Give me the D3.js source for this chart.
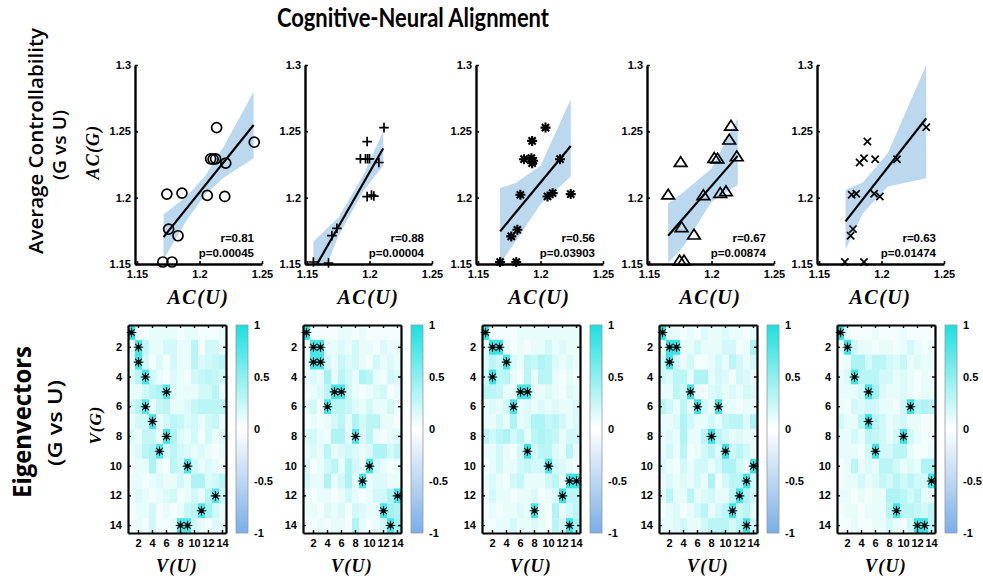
<!DOCTYPE html>
<html>
<head>
<meta charset="utf-8">
<script src="https://cdn.jsdelivr.net/npm/d3@7"></script>
<style>
  body { margin: 0; background: #fff; }
  svg { display: block; }
</style>
</head>
<body>
<div id="chart"></div>
<script>
// ---- top row: AC(U) vs AC(G), one array pair per panel ----
const acU1 = [1.2137,1.2438,1.2089,1.2109,1.2129,1.2210,1.1739,1.1860,1.2062,1.2202,1.1753,1.1828,1.1707,1.1780];
const acG1 = [1.2528,1.2418,1.2293,1.2290,1.2293,1.2260,1.2027,1.2034,1.2017,1.2009,1.1763,1.1713,1.1515,1.1515];
const acU2 = [1.2116,1.1981,1.1927,1.1968,1.2000,1.2075,1.1981,1.2016,1.2035,1.1739,1.1699,1.1551,1.1672,1.1985];
const acG2 = [1.2528,1.2423,1.2293,1.2293,1.2293,1.2265,1.2008,1.2020,1.2012,1.1769,1.1714,1.1515,1.1507,1.2293];
const acU3 = [1.2040,1.1933,1.1868,1.1927,1.1941,1.1933,1.2156,1.1839,1.2056,1.2097,1.2242,1.1815,1.1766,1.1677,1.1806];
const acG3 = [1.2528,1.2428,1.2290,1.2298,1.2278,1.2260,1.2290,1.2022,1.2009,1.2034,1.2027,1.1758,1.1708,1.1515,1.1515];
const acU4 = [1.2156,1.2142,1.1753,1.2022,1.2048,1.2202,1.1653,1.1935,1.2070,1.2116,1.1761,1.1860,1.1745,1.1780];
const acG4 = [1.2541,1.2436,1.2267,1.2298,1.2293,1.2310,1.2022,1.2017,1.2034,1.2047,1.1776,1.1720,1.1525,1.1525];
const acU5 = [1.2358,1.1887,1.1860,1.1825,1.1949,1.2124,1.1761,1.1798,1.1941,1.1987,1.1772,1.1753,1.1707,1.1860];
const acG5 = [1.2531,1.2423,1.2298,1.2265,1.2290,1.2290,1.2022,1.2029,1.2029,1.2009,1.1763,1.1713,1.1515,1.1515];

// fitted line end points
const fitX = [[1.1712,1.2433],[1.1578,1.2110],[1.1677,1.2242],[1.1653,1.2210],[1.1712,1.2358]];
const fitY = [[1.1703,1.2548],[1.1495,1.2373],[1.1746,1.2390],[1.1713,1.2315],[1.1821,1.2599]];

// confidence bands
const bandX1 = [1.1712,1.19,1.205,1.22,1.2433], bandLo1 = [1.1533,1.1833,1.2029,1.2155,1.2298], bandHi1 = [1.1873,1.2013,1.2169,1.2395,1.2798];
const bandX2 = [1.1551,1.175,1.195,1.211],      bandLo2 = [1.123,1.1709,1.2049,1.2243],        bandHi2 = [1.167,1.1849,1.2169,1.2503];
const bandX3 = [1.1677,1.18,1.20,1.2242],       bandLo3 = [1.150,1.167,1.195,1.216],           bandHi3 = [1.2072,1.211,1.224,1.2742];
const bandX4 = [1.1653,1.178,1.2,1.221],        bandLo4 = [1.1507,1.164,1.197,1.2097],         bandHi4 = [1.1954,1.2045,1.222,1.2599];
const bandX5 = [1.1712,1.185,1.205,1.2358],     bandLo5 = [1.1608,1.1883,1.2084,1.2147],       bandHi5 = [1.2059,1.2115,1.2335,1.3];

const rLabels = ["r=0.81","r=0.88","r=0.56","r=0.67","r=0.63"];
const pLabels = ["p=0.00045","p=0.00004","p=0.03903","p=0.00874","p=0.01474"];
const markerTypes = ["circle","plus","asterisk","triangle","times"];
const acTicks = [1.15,1.2,1.25,1.3];
const acXTicks = [1.15,1.2,1.25];

// ---- bottom row: eigenvector similarity, rows V(G) 1..14, cols V(U) 1..14 ----
const eig1 = [
  [.9,.05,.05,.1,.1,.1,.1,.05,.1,.1,.05,.05,.05,.1],
  [.1,.8,.25,.1,.1,.2,.2,.1,.1,.3,.05,.2,.2,.1],
  [.1,.8,.2,.05,.15,.05,.2,.1,.1,.3,.15,.2,.25,.3],
  [.15,.3,.8,.2,.1,.05,.15,.1,.05,.2,.25,.3,.25,.2],
  [.1,.1,.2,.3,.35,.75,.15,.1,.1,.1,.2,.2,.3,.1],
  [.2,.3,.75,.1,.25,.3,.1,.1,.15,.25,.3,.3,.3,.3],
  [.1,.2,.2,.8,.1,.2,.3,.25,.15,.2,.1,.2,.25,.1],
  [.15,.1,.25,.25,.1,.8,.35,.15,.1,.2,.05,.2,.1,.15],
  [.1,.15,.3,.35,.75,.2,.3,.2,.15,.1,.15,.1,.05,.1],
  [.05,.1,.1,.35,.1,.05,.3,.2,.8,.2,.1,.15,.1,.05],
  [.1,.1,.05,.1,.15,.1,.1,.2,.1,.35,.35,.15,.2,.3],
  [.05,.15,.1,.05,.1,.15,.2,.05,.1,.2,.1,.3,.75,.2],
  [.05,.1,.1,.2,.05,.1,.05,.1,.25,.3,.8,.4,.2,.1],
  [.05,.1,.05,.2,.05,.05,.1,.75,.75,.2,.1,.05,.15,.1]
];
const eig2 = [
  [.9,.05,.05,.05,.05,.1,.1,.05,.1,.05,.05,.05,.05,.05],
  [.05,.8,.8,.1,.1,.15,.1,.2,.1,.1,.05,.15,.1,.1],
  [.1,.8,.8,.2,.1,.25,.15,.2,.1,.05,.2,.1,.15,.1],
  [.1,.15,.1,.4,.1,.3,.2,.1,.35,.3,.1,.05,.2,.15],
  [.05,.1,.15,.3,.8,.8,.2,.1,.05,.1,.15,.2,.05,.1],
  [.1,.2,.05,.8,.3,.3,.25,.15,.1,.2,.1,.1,.2,.05],
  [.05,.1,.05,.1,.2,.3,.1,.35,.2,.3,.3,.1,.1,.05],
  [.15,.2,.1,.05,.35,.35,.1,.8,.15,.3,.1,.05,.1,.15],
  [.1,.15,.1,.3,.1,.15,.2,.15,.1,.15,.35,.35,.2,.3],
  [.15,.05,.1,.2,.3,.1,.35,.2,.1,.8,.2,.1,.05,.1],
  [.2,.1,.1,.35,.1,.2,.35,.1,.8,.1,.15,.15,.1,.1],
  [.05,.05,.1,.1,.05,.1,.2,.1,.05,.1,.2,.2,.35,.8],
  [.1,.1,.05,.15,.1,.15,.05,.2,.15,.1,.1,.8,.4,.35],
  [.05,.05,.1,.05,.1,.1,.05,.35,.1,.05,.1,.2,.8,.4]
];
const eig3 = [
  [.9,.05,.05,.05,.05,.1,.1,.1,.1,.1,.1,.1,.1,.1],
  [.1,.85,.85,.1,.05,.1,.05,.1,.1,.2,.1,.15,.1,.1],
  [.15,.3,.2,.8,.15,.1,.3,.25,.35,.3,.15,.1,.15,.1],
  [.2,.85,.3,.3,.1,.05,.3,.1,.3,.3,.1,.05,.1,.05],
  [.3,.3,.25,.1,.1,.8,.8,.1,.1,.15,.1,.05,.15,.1],
  [.1,.15,.1,.2,.8,.1,.15,.1,.15,.1,.15,.1,.1,.15],
  [.1,.1,.2,.1,.35,.1,.15,.35,.35,.25,.3,.2,.1,.15],
  [.3,.2,.3,.35,.2,.3,.1,.3,.35,.3,.25,.1,.2,.2],
  [.1,.1,.2,.1,.05,.2,.85,.2,.3,.3,.15,.1,.3,.1],
  [.05,.1,.2,.1,.1,.2,.25,.2,.2,.8,.2,.15,.1,.05],
  [.1,.15,.1,.05,.2,.25,.1,.1,.1,.2,.3,.1,.85,.85],
  [.05,.2,.1,.1,.05,.1,.1,.15,.05,.1,.15,.85,.3,.3],
  [.05,.1,.05,.1,.1,.15,.1,.85,.1,.05,.35,.1,.2,.3],
  [.05,.05,.1,.1,.2,.1,.1,.15,.1,.05,.3,.2,.85,.4]
];
const eig4 = [
  [.9,.1,.1,.05,.1,.05,.15,.1,.1,.15,.1,.1,.05,.1],
  [.1,.85,.85,.1,.1,.2,.1,.1,.1,.2,.2,.05,.1,.35],
  [.2,.85,.2,.1,.2,.05,.05,.1,.2,.1,.3,.2,.1,.2],
  [.2,.15,.3,.3,.1,.35,.35,.1,.2,.15,.05,.2,.15,.1],
  [.1,.1,.3,.2,.85,.1,.05,.15,.2,.1,.15,.1,.2,.15],
  [.3,.2,.1,.3,.1,.85,.2,.1,.85,.1,.1,.05,.1,.1],
  [.1,.1,.15,.35,.2,.1,.1,.2,.1,.25,.3,.3,.15,.35],
  [.1,.15,.1,.35,.1,.1,.3,.85,.3,.2,.1,.15,.1,.1],
  [.1,.2,.1,.3,.05,.1,.2,.3,.15,.85,.2,.3,.2,.1],
  [.15,.1,.05,.2,.1,.2,.2,.1,.2,.35,.35,.2,.1,.85],
  [.1,.15,.1,.15,.1,.2,.1,.35,.05,.2,.3,.3,.85,.2],
  [.1,.3,.1,.1,.3,.1,.15,.2,.1,.1,.3,.85,.35,.2],
  [.05,.1,.15,.05,.1,.2,.3,.1,.2,.3,.85,.2,.3,.1],
  [.1,.1,.15,.2,.1,.1,.2,.3,.3,.3,.2,.3,.85,.2]
];
const eig5 = [
  [.9,.1,.05,.05,.05,.1,.05,.05,.05,.1,.05,.05,.05,.05],
  [.1,.85,.2,.1,.1,.05,.1,.1,.05,.1,.2,.1,.05,.1],
  [.05,.1,.35,.35,.2,.3,.3,.2,.15,.25,.1,.15,.1,.1],
  [.1,.15,.85,.3,.3,.3,.2,.2,.1,.15,.1,.05,.1,.05],
  [.1,.1,.1,.2,.85,.4,.15,.1,.1,.15,.1,.05,.1,.1],
  [.1,.05,.2,.15,.2,.2,.1,.1,.05,.2,.85,.3,.35,.3],
  [.2,.1,.1,.3,.85,.3,.2,.1,.15,.2,.1,.1,.05,.05],
  [.1,.1,.2,.1,.3,.25,.2,.1,.2,.85,.2,.1,.05,.05],
  [.1,.1,.1,.05,.2,.85,.2,.2,.3,.3,.1,.05,.05,.1],
  [.05,.1,.3,.1,.15,.1,.3,.3,.2,.1,.15,.1,.35,.35],
  [.05,.1,.1,.2,.1,.15,.25,.2,.3,.2,.3,.2,.2,.85],
  [.1,.1,.05,.1,.05,.1,.1,.35,.35,.3,.2,.3,.1,.1],
  [.05,.1,.1,.05,.1,.1,.1,.3,.85,.3,.3,.25,.2,.3],
  [.05,.05,.1,.05,.05,.1,.1,.2,.1,.05,.2,.85,.85,.3]
];
const eigIndex = d3.range(1, 15);
const eigTicks = [2,4,6,8,10,12,14];
const cbarTicks = [1,0.5,0,-0.5,-1];
const matchLevel = 0.7; // cells at or above this get an asterisk

const scatterSets = [
  { u: acU1, g: acG1, bx: bandX1, lo: bandLo1, hi: bandHi1 },
  { u: acU2, g: acG2, bx: bandX2, lo: bandLo2, hi: bandHi2 },
  { u: acU3, g: acG3, bx: bandX3, lo: bandLo3, hi: bandHi3 },
  { u: acU4, g: acG4, bx: bandX4, lo: bandLo4, hi: bandHi4 },
  { u: acU5, g: acG5, bx: bandX5, lo: bandLo5, hi: bandHi5 }
];
const eigSets = [eig1, eig2, eig3, eig4, eig5];

const W = 983, H = 583;
const numFont = "'Liberation Sans', Arial, sans-serif";
const mathFont = "'Liberation Serif', 'Times New Roman', serif";
const labelFont = "'Open Sans', 'Noto Sans', sans-serif";

const svg = d3.select("#chart").append("svg")
    .attr("width", W)
    .attr("height", H)
    .attr("viewBox", `0 0 ${W} ${H}`);

// title + row labels
svg.append("text")
    .attr("x", 413).attr("y", 27)
    .attr("text-anchor", "middle")
    .attr("font-family", "Lato, 'Open Sans', sans-serif")
    .attr("font-weight", "bold")
    .attr("font-size", 27)
    .attr("textLength", 272)
    .attr("lengthAdjust", "spacingAndGlyphs")
    .text("Cognitive-Neural Alignment");

function rotLabel(x, y, txt, size, weight, len) {
  const t = svg.append("text")
      .attr("transform", `translate(${x},${y}) rotate(-90)`)
      .attr("text-anchor", "middle")
      .attr("dominant-baseline", "central")
      .attr("font-family", labelFont)
      .attr("font-weight", weight)
      .attr("font-size", size)
      .text(txt);
  if (len) t.attr("textLength", len).attr("lengthAdjust", "spacingAndGlyphs");
  return t;
}
rotLabel(35, 141, "Average Controllability", 20, 600, 226);
rotLabel(59, 145, "(G vs U)", 18, 600, 70);
rotLabel(21, 422, "Eigenvectors", 25, "bold", 152);
rotLabel(55, 423, "(G vs U)", 19, 600, 86);

// ---------- scatter panels ----------
const scatterLeft = [135, 305, 476, 647, 817];
const sTop = 65, sW = 127, sH = 199;

const x = d3.scaleLinear().domain([1.1484, 1.25]).range([0, sW]);
const y = d3.scaleLinear().domain([1.15, 1.3]).range([sH, 0]);
const fmt = d => String(+d.toFixed(2));

function drawMarker(g, type, px, py) {
  if (type === "circle") {
    g.append("circle").attr("cx", px).attr("cy", py).attr("r", 5)
      .attr("fill", "none").attr("stroke", "#000").attr("stroke-width", 1.7);
    return;
  }
  let d = "";
  if (type === "plus") d = `M${px-4.8},${py}H${px+4.8}M${px},${py-4.8}V${py+4.8}`;
  if (type === "times") d = `M${px-3.6},${py-3.6}L${px+3.6},${py+3.6}M${px-3.6},${py+3.6}L${px+3.6},${py-3.6}`;
  if (type === "asterisk") d = `M${px-5},${py}H${px+5}M${px},${py-5}V${py+5}` +
      `M${px-3.6},${py-3.6}L${px+3.6},${py+3.6}M${px-3.6},${py+3.6}L${px+3.6},${py-3.6}`;
  if (type === "triangle") d = `M${px},${py-5.5}L${px+6.3},${py+4.2}L${px-6.3},${py+4.2}Z`;
  g.append("path").attr("d", d)
    .attr("fill", "none").attr("stroke", "#000")
    .attr("stroke-width", type === "asterisk" ? 2.1 : 1.7)
    .attr("stroke-linejoin", "miter");
}

scatterSets.forEach((s, i) => {
  const g = svg.append("g").attr("transform", `translate(${scatterLeft[i]},${sTop})`);

  g.append("clipPath").attr("id", "clip" + i)
    .append("rect").attr("width", sW).attr("height", sH);

  const area = d3.area()
      .x((d, k) => x(s.bx[k]))
      .y0((d, k) => y(s.lo[k]))
      .y1((d, k) => y(s.hi[k]));
  g.append("path")
      .datum(s.bx)
      .attr("clip-path", `url(#clip${i})`)
      .attr("fill", "#bcd8ef")
      .attr("d", area);

  const line = d3.line().x(d => x(d[0])).y(d => y(d[1]));
  g.append("path")
      .datum([[fitX[i][0], fitY[i][0]], [fitX[i][1], fitY[i][1]]])
      .attr("fill", "none")
      .attr("stroke", "#000")
      .attr("stroke-width", 2.2)
      .attr("d", line);

  s.u.forEach((u, k) => drawMarker(g, markerTypes[i], x(u), y(s.g[k])));

  // axes (MATLAB style: ticks inside, no box)
  const yAxis = g.append("g")
      .call(d3.axisLeft(y).tickValues(acTicks).tickFormat(fmt).tickSize(-3).tickSizeOuter(0).tickPadding(4));
  const xAxis = g.append("g")
      .attr("transform", `translate(0,${sH})`)
      .call(d3.axisBottom(x).tickValues(acXTicks).tickFormat(fmt).tickSize(-3).tickSizeOuter(0).tickPadding(6));
  [xAxis, yAxis].forEach(a => {
    a.select(".domain").attr("stroke-width", 2.4);
    a.selectAll(".tick line").attr("stroke-width", 1.6);
    a.selectAll("text")
      .attr("font-family", numFont)
      .attr("font-weight", "bold")
      .attr("font-size", 11)
      .attr("fill", "#000");
  });

  g.append("text")
      .attr("x", 119).attr("y", 177)
      .attr("text-anchor", "end")
      .attr("font-family", numFont).attr("font-weight", "bold").attr("font-size", 11.5)
      .text(rLabels[i]);
  g.append("text")
      .attr("x", 119).attr("y", 192)
      .attr("text-anchor", "end")
      .attr("font-family", numFont).attr("font-weight", "bold").attr("font-size", 11.5)
      .text(pLabels[i]);

  g.append("text")
      .attr("x", sW / 2).attr("y", 239)
      .attr("text-anchor", "middle")
      .attr("font-family", mathFont).attr("font-style", "italic").attr("font-weight", "bold")
      .attr("font-size", 20)
      .attr("letter-spacing", 1.5)
      .text("AC(U)");
});

svg.append("text")
    .attr("transform", `translate(99,152) rotate(-90)`)
    .attr("text-anchor", "middle")
    .attr("font-family", mathFont).attr("font-style", "italic").attr("font-weight", "bold")
    .attr("font-size", 18)
    .attr("letter-spacing", 1.2)
    .text("AC(G)");

// ---------- heatmap panels ----------
const heatLeft = [128, 303, 482, 659, 837];
const hTop = 325, hW = 98, hH = 208;
const cbOffset = 108, cbW = 12;

const color = d3.scaleLinear()
    .domain([-1, 0, 1])
    .range(["#78aee8", "#ffffff", "#1ae0e0"]);

const cx = d3.scaleBand().domain(eigIndex).range([0, hW]);
const cy = d3.scaleBand().domain(eigIndex).range([0, hH]);
const cb = d3.scaleLinear().domain([-1, 1]).range([hH, 0]);

const defs = svg.append("defs");
const grad = defs.append("linearGradient").attr("id", "cbgrad")
    .attr("x1", 0).attr("y1", 1).attr("x2", 0).attr("y2", 0);
d3.range(-1, 1.01, 0.25).forEach(v => {
  grad.append("stop").attr("offset", (v + 1) / 2).attr("stop-color", color(v));
});

eigSets.forEach((m, i) => {
  const g = svg.append("g").attr("transform", `translate(${heatLeft[i]},${hTop})`);
  const cells = [];
  m.forEach((row, r) => row.forEach((v, c) => cells.push({ r: r + 1, c: c + 1, v })));

  g.selectAll("rect.cell")
    .data(cells)
    .join("rect")
      .attr("class", "cell")
      .attr("x", d => cx(d.c))
      .attr("y", d => cy(d.r))
      .attr("width", cx.bandwidth() + 0.3)
      .attr("height", cy.bandwidth() + 0.3)
      .attr("fill", d => color(d.v));

  // asterisks on matched eigenvectors
  const hits = cells.filter(d => d.v >= matchLevel);
  hits.forEach(d => {
    const px = cx(d.c) + cx.bandwidth() / 2, py = cy(d.r) + cy.bandwidth() / 2;
    g.append("path")
      .attr("d", `M${px-4.8},${py}H${px+4.8}M${px},${py-4.8}V${py+4.8}` +
                 `M${px-3.4},${py-3.4}L${px+3.4},${py+3.4}M${px-3.4},${py+3.4}L${px+3.4},${py-3.4}`)
      .attr("stroke", "#1a1a1a").attr("stroke-width", 1.1).attr("fill", "none");
    g.append("circle").attr("cx", px).attr("cy", py).attr("r", 2.2).attr("fill", "#000");
  });

  const xb = d3.axisBottom(cx).tickValues(eigTicks).tickSize(-3).tickSizeOuter(0).tickPadding(6);
  const yl = d3.axisLeft(cy).tickValues(eigTicks).tickSize(-3).tickSizeOuter(0).tickPadding(6);
  const xt = d3.axisTop(cx).tickValues(eigTicks).tickSize(-3).tickSizeOuter(0).tickFormat("");
  const yr = d3.axisRight(cy).tickValues(eigTicks).tickSize(-3).tickSizeOuter(0).tickFormat("");
  const axes = [
    g.append("g").attr("transform", `translate(0,${hH})`).call(xb),
    g.append("g").call(yl),
    g.append("g").call(xt),
    g.append("g").attr("transform", `translate(${hW},0)`).call(yr)
  ];
  axes.forEach(a => {
    a.select(".domain").attr("stroke-width", 2.2);
    a.selectAll(".tick line").attr("stroke-width", 1.4);
    a.selectAll("text")
      .attr("font-family", numFont).attr("font-weight", "bold")
      .attr("font-size", 11).attr("fill", "#000");
  });

  // colorbar
  const cbg = g.append("g").attr("transform", `translate(${cbOffset},0)`);
  cbg.append("rect")
      .attr("width", cbW).attr("height", hH)
      .attr("fill", "url(#cbgrad)")
      .attr("stroke", "#9a9a9a").attr("stroke-width", 0.8);
  cbg.append("g")
      .attr("transform", `translate(${cbW},0)`)
      .call(d3.axisRight(cb).tickValues(cbarTicks).tickFormat(d => String(d)).tickSize(0).tickPadding(6))
      .call(a => a.select(".domain").remove())
      .selectAll("text")
        .attr("font-family", numFont).attr("font-weight", "bold")
        .attr("font-size", 11).attr("fill", "#000");

  g.append("text")
      .attr("x", hW / 2).attr("y", 247)
      .attr("text-anchor", "middle")
      .attr("font-family", mathFont).attr("font-style", "italic").attr("font-weight", "bold")
      .attr("font-size", 18)
      .attr("letter-spacing", 1.2)
      .text("V(U)");
});

svg.append("text")
    .attr("transform", `translate(101,425) rotate(-90)`)
    .attr("text-anchor", "middle")
    .attr("font-family", mathFont).attr("font-style", "italic").attr("font-weight", "bold")
    .attr("font-size", 17)
    .attr("letter-spacing", 1)
    .text("V(G)");
</script>
</body>
</html>
